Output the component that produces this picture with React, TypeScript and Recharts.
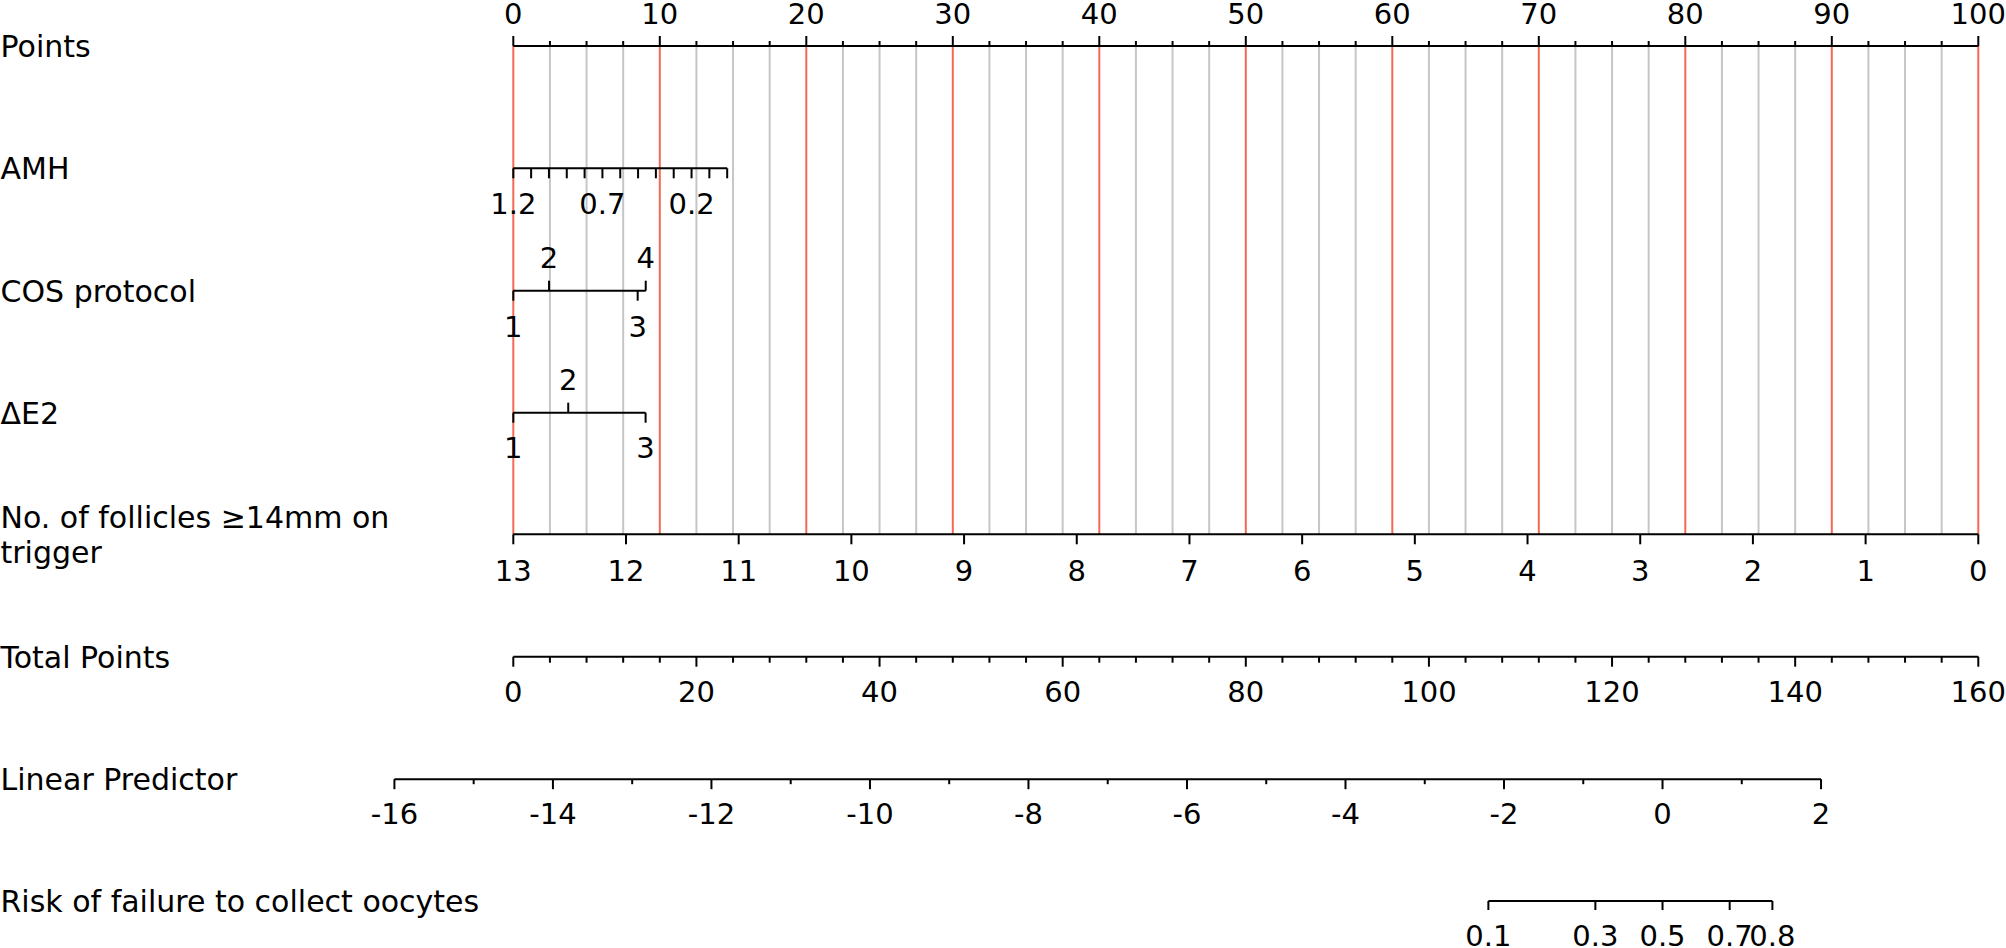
import React from 'react';
import { ComposedChart, XAxis, YAxis, Scatter, ReferenceLine } from 'recharts';

// ---------- data ----------
const pointsMajor = [0, 10, 20, 30, 40, 50, 60, 70, 80, 90, 100];
const pointsMinor = [2.5, 5, 7.5, 12.5, 15, 17.5, 22.5, 25, 27.5, 32.5, 35, 37.5, 42.5, 45, 47.5, 52.5, 55, 57.5, 62.5, 65, 67.5, 72.5, 75, 77.5, 82.5, 85, 87.5, 92.5, 95, 97.5];

const amhTicks = [1.2, 1.1, 1.0, 0.9, 0.8, 0.7, 0.6, 0.5, 0.4, 0.3, 0.2, 0.1, 0.0];
const amhLabels = [1.2, 0.7, 0.2];
const amhPointsAtZero = 14.6; // points for AMH = 0 (AMH 1.2 -> 0 points)

const cosLevels = ['1', '2', '3', '4'];
const cosPoints = [0, 2.44, 8.49, 9.04];
const cosSide = ['below', 'above', 'below', 'above'];

const de2Levels = ['1', '2', '3'];
const de2Points = [0, 3.75, 9.03];
const de2Side = ['below', 'above', 'below'];

const follicleTicks = [13, 12, 11, 10, 9, 8, 7, 6, 5, 4, 3, 2, 1, 0];

const totalTicks = [0, 4, 8, 12, 16, 20, 24, 28, 32, 36, 40, 44, 48, 52, 56, 60, 64, 68, 72, 76, 80, 84, 88, 92, 96, 100, 104, 108, 112, 116, 120, 124, 128, 132, 136, 140, 144, 148, 152, 156, 160];
const totalLabels = [0, 20, 40, 60, 80, 100, 120, 140, 160];

const lpTicks = [-16, -15, -14, -13, -12, -11, -10, -9, -8, -7, -6, -5, -4, -3, -2, -1, 0, 1, 2];
const lpLabels = [-16, -14, -12, -10, -8, -6, -4, -2, 0, 2];
const lpAtZeroPoints = -14.5; // linear predictor value at 0 points
const pointsPerLp = 5.41; // points (0-100 scale) per unit of linear predictor

const riskTicks = [0.1, 0.3, 0.5, 0.7, 0.8];

const rowNames = ['Points', 'AMH', 'COS protocol', '\u0394E2', 'No. of follicles \u226514mm on|trigger', 'Total Points', 'Linear Predictor', 'Risk of failure to collect oocytes'];

// ---------- layout ----------
const W = 2006;
const H = 948;
const P0_PX = 513.3;
const P100_PX = 1978.3;
const PX_PER_POINT = (P100_PX - P0_PX) / 100;
const XMIN = -P0_PX / PX_PER_POINT;
const XMAX = 100 + (W - P100_PX) / PX_PER_POINT;
const ROW_Y = [46, 168.3, 290.7, 412.7, 534.3, 656.7, 779.2, 901];
const FONT = '"DejaVu Sans", Verdana, sans-serif';
const TICK_FS = 29;
const LAB_FS = 30;
const RED = '#F26A55';
const GRAY = '#C6C6C6';

// ---------- mappings to points ----------
const amhToPts = (a: number) => ((1.2 - a) / 1.2) * amhPointsAtZero;
const follToPts = (n: number) => ((13 - n) * 100) / 13;
const totalToPts = (t: number) => (t * 100) / 160;
const lpToPts = (lp: number) => (lp - lpAtZeroPoints) * pointsPerLp;
const riskToPts = (r: number) => lpToPts(Math.log(r / (1 - r)));

type Tick = { x: number; y: number; len: number; dir: number; label?: string; lo?: number };

const fmt = (v: number) => String(Math.round(v * 10) / 10);

const tickData: Tick[] = [];
// Points
pointsMajor.forEach((v) => tickData.push({ x: v, y: ROW_Y[0], len: 10, dir: -1, label: String(v), lo: -33 }));
pointsMinor.forEach((v) => tickData.push({ x: v, y: ROW_Y[0], len: 5, dir: -1 }));
// AMH
amhTicks.forEach((v) => {
  const lab = amhLabels.some((l) => Math.abs(l - v) < 1e-6) ? fmt(v) : undefined;
  tickData.push({ x: amhToPts(v), y: ROW_Y[1], len: 10, dir: 1, label: lab, lo: 35 });
});
// COS
cosLevels.forEach((l, i) => {
  const up = cosSide[i] === 'above';
  tickData.push({ x: cosPoints[i], y: ROW_Y[2], len: 10, dir: up ? -1 : 1, label: l, lo: up ? -33 : 36 });
});
// dE2
de2Levels.forEach((l, i) => {
  const up = de2Side[i] === 'above';
  tickData.push({ x: de2Points[i], y: ROW_Y[3], len: 10, dir: up ? -1 : 1, label: l, lo: up ? -33 : 35 });
});
// follicles
follicleTicks.forEach((n) => tickData.push({ x: follToPts(n), y: ROW_Y[4], len: 10, dir: 1, label: String(n), lo: 36 }));
// total points
totalTicks.forEach((t) => {
  const major = totalLabels.includes(t);
  tickData.push({ x: totalToPts(t), y: ROW_Y[5], len: major ? 10 : 6, dir: 1, label: major ? String(t) : undefined, lo: 35 });
});
// linear predictor
lpTicks.forEach((t) => {
  const major = lpLabels.includes(t);
  tickData.push({ x: lpToPts(t), y: ROW_Y[6], len: major ? 10 : 5, dir: 1, label: major ? String(t) : undefined, lo: 34 });
});
// risk
riskTicks.forEach((r) => tickData.push({ x: riskToPts(r), y: ROW_Y[7], len: 9, dir: 1, label: String(r), lo: 34 }));

// axis line extents (in points)
const axisSegments: [number, number, number][] = [
  [0, 100, ROW_Y[0]],
  [amhToPts(1.2), amhToPts(0), ROW_Y[1]],
  [cosPoints[0], Math.max(...cosPoints), ROW_Y[2]],
  [de2Points[0], Math.max(...de2Points), ROW_Y[3]],
  [follToPts(13), follToPts(0), ROW_Y[4]],
  [totalToPts(0), totalToPts(160), ROW_Y[5]],
  [lpToPts(-16), lpToPts(2), ROW_Y[6]],
  [riskToPts(0.1), riskToPts(0.8), ROW_Y[7]],
];

const gridValues = [...pointsMajor, ...pointsMinor];

const labelData = rowNames.map((name, i) => ({ x: XMIN, y: ROW_Y[i], name }));

const TickShape = (props: any) => {
  const { cx, cy, payload } = props;
  if (cx == null || cy == null) return <g />;
  const p = payload as Tick;
  return (
    <g>
      <line x1={cx} x2={cx} y1={cy} y2={cy + p.dir * p.len} stroke="#000" strokeWidth={2} />
      {p.label != null && (
        <text x={cx} y={cy + (p.lo || 0) + 0.364 * TICK_FS} textAnchor="middle" fontSize={TICK_FS} fontFamily={FONT} fill="#000">
          {p.label}
        </text>
      )}
    </g>
  );
};

const LabelShape = (props: any) => {
  const { cx, cy, payload } = props;
  if (cx == null || cy == null) return <g />;
  const lines = String(payload.name).split('|');
  const lh = 35;
  return (
    <text fontSize={LAB_FS} fontFamily={FONT} fill="#000">
      {lines.map((ln, i) => (
        <tspan key={i} x={cx + 0.5} y={cy + 0.364 * LAB_FS + (i - (lines.length - 1) / 2) * lh}>
          {ln}
        </tspan>
      ))}
    </text>
  );
};

export default function App() {
  return (
    <div style={{ position: 'absolute', left: 0, top: 0, width: W, height: H, background: '#fff' }}>
      <ComposedChart width={W} height={H} margin={{ top: 0, right: 0, bottom: 0, left: 0 }}>
        <XAxis type="number" dataKey="x" domain={[XMIN, XMAX]} allowDataOverflow hide />
        <YAxis type="number" dataKey="y" domain={[0, H]} reversed allowDataOverflow hide />
        {gridValues.map((v) => (
          <ReferenceLine
            key={'g' + v}
            segment={[{ x: v, y: ROW_Y[0] }, { x: v, y: ROW_Y[4] }]}
            stroke={v % 10 === 0 ? RED : GRAY}
            strokeWidth={2}
            ifOverflow="visible"
          />
        ))}
        {axisSegments.map(([a, b, y], i) => (
          <ReferenceLine
            key={'a' + i}
            segment={[{ x: a, y }, { x: b, y }]}
            stroke="#000"
            strokeWidth={2}
            ifOverflow="visible"
          />
        ))}
        <Scatter data={tickData} shape={TickShape} isAnimationActive={false} />
        <Scatter data={labelData} shape={LabelShape} isAnimationActive={false} />
      </ComposedChart>
    </div>
  );
}
